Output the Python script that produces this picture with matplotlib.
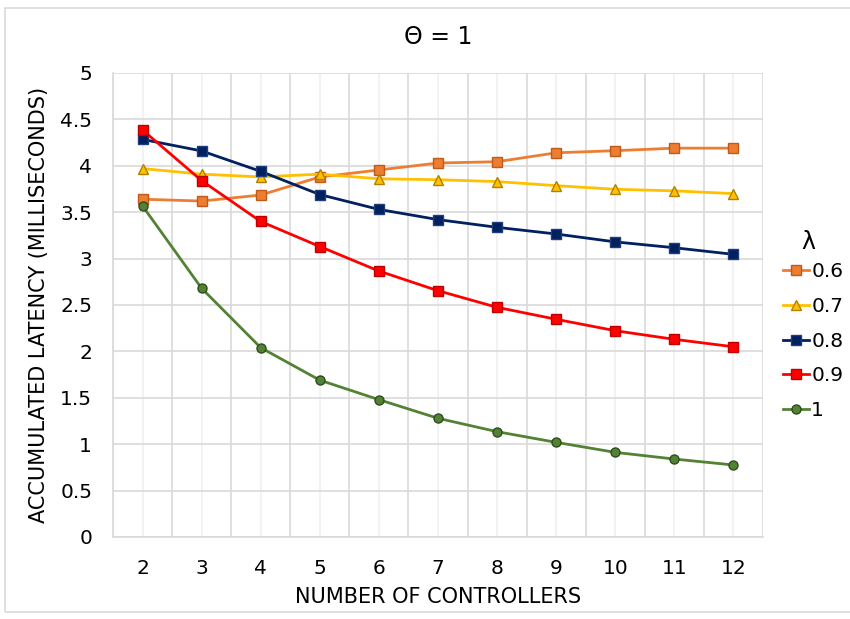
import matplotlib
matplotlib.use("Agg")
import matplotlib.pyplot as plt
from matplotlib.patches import Rectangle
from matplotlib.ticker import MultipleLocator

plt.rcParams['font.family'] = ['DejaVu Sans']

controllers = [2, 3, 4, 5, 6, 7, 8, 9, 10, 11, 12]
lambda_labels = ["0.6", "0.7", "0.8", "0.9", "1"]

lat_06 = [3.64, 3.62, 3.685, 3.88, 3.955, 4.03, 4.044, 4.14, 4.163, 4.19, 4.19]
lat_07 = [3.97, 3.91, 3.88, 3.91, 3.86, 3.85, 3.83, 3.786, 3.747, 3.73, 3.70]
lat_08 = [4.285, 4.16, 3.94, 3.69, 3.53, 3.42, 3.337, 3.265, 3.18, 3.117, 3.046]
lat_09 = [4.386, 3.84, 3.40, 3.13, 2.866, 2.654, 2.475, 2.346, 2.223, 2.13, 2.05]
lat_10 = [3.567, 2.68, 2.04, 1.69, 1.48, 1.279, 1.135, 1.02, 0.912, 0.84, 0.776]

series = [lat_06, lat_07, lat_08, lat_09, lat_10]
colors = ["#ed7d31", "#ffc000", "#002060", "#ff0000", "#548235"]
edges = ["#c05a1a", "#b08000", "#1f3d7a", "#c00000", "#2e4d1c"]
markers = ["s", "^", "s", "s", "o"]
sizes = [7, 7, 7, 7, 6.5]

fig = plt.figure(figsize=(8.5, 6.19), dpi=100)
fig.patches.append(Rectangle((5 / 850, 1 - 612 / 619), 850, 604 / 619,
                             transform=fig.transFigure, fill=False,
                             edgecolor="#d9d9d9", linewidth=1.2))
ax = fig.add_axes([113 / 850, 1 - 537 / 619, 650 / 850, 464 / 619])

for vals, lab, c, ec, m, s in zip(series, lambda_labels, colors, edges, markers, sizes):
    ax.plot(controllers, vals, color=c, linewidth=2, marker=m, markersize=s,
            markerfacecolor=c, markeredgecolor=ec, markeredgewidth=1.0,
            label=lab, zorder=3)

ax.set_xlim(1.5, 12.5)
ax.set_ylim(0, 5)
ax.set_xticks(controllers)
ax.xaxis.set_minor_locator(MultipleLocator(1, offset=0.5))
ax.set_yticks([0, 0.5, 1, 1.5, 2, 2.5, 3, 3.5, 4, 4.5, 5])
ax.set_yticklabels(["0", "0.5", "1", "1.5", "2", "2.5", "3", "3.5", "4", "4.5", "5"])

ax.grid(True, which="major", axis="y", color="#d9d9d9", linewidth=1.2)
ax.grid(True, which="major", axis="x", color="#f0f0f0", linewidth=1.2)
ax.grid(True, which="minor", axis="x", color="#d9d9d9", linewidth=1.2)
ax.set_axisbelow(True)
ax.tick_params(axis="both", which="both", length=0, labelsize=14.5)
ax.tick_params(axis="x", pad=16)
ax.tick_params(axis="y", pad=15)
for side in ["top", "right"]:
    ax.spines[side].set_visible(False)
for side in ["left", "bottom"]:
    ax.spines[side].set_color("#d9d9d9")
    ax.spines[side].set_linewidth(1.2)

ax.set_title("Θ = 1", fontsize=17, pad=21)
ax.set_xlabel("NUMBER OF CONTROLLERS", fontsize=15, labelpad=6)
ax.set_ylabel("ACCUMULATED LATENCY (MILLISECONDS)", fontsize=15, labelpad=8)

# legend entries with the λ heading drawn above them
leg = ax.legend(loc="upper left", bbox_to_anchor=(1.0308, 0.592),
                frameon=False, fontsize=14.5, borderpad=0, borderaxespad=0,
                handlelength=1.3, handletextpad=0.1, labelspacing=0.78)
fig.text(808 / 850, 1 - 242 / 619, "λ", fontsize=17, ha="center", va="center")

fig.savefig("out.png", dpi=100)
